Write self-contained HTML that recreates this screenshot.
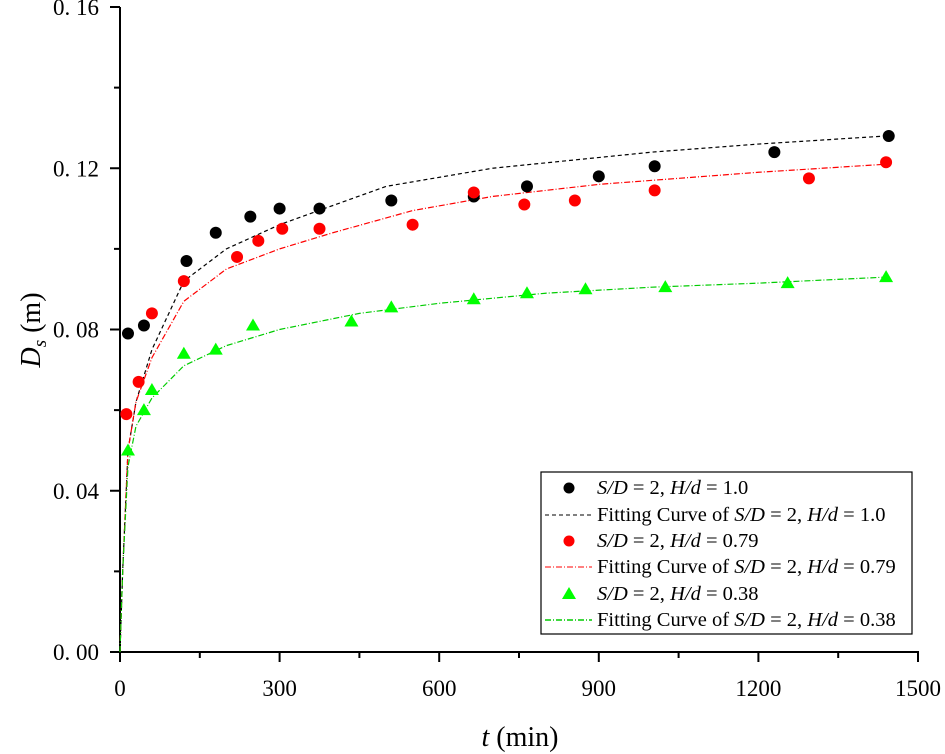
<!DOCTYPE html>
<html><head><meta charset="utf-8"><style>
body{margin:0;background:#fff}
svg{display:block;font-family:"Liberation Serif",serif}
</style></head><body>
<svg id="chart" width="945" height="754" viewBox="0 0 945 754" xmlns="http://www.w3.org/2000/svg">
<g id="axes"></g>
<g id="fits"></g>
<g id="pts"></g>
<text transform="translate(40,330) rotate(-90)" text-anchor="middle" font-size="28"><tspan font-style="italic">D</tspan><tspan font-style="italic" font-size="19" dy="6">s</tspan><tspan dy="-6"> (m)</tspan></text>
<text x="520" y="746" text-anchor="middle" font-size="28"><tspan font-style="italic">t</tspan> (min)</text>
<g font-size="20.5">
<rect x="541" y="472" width="371" height="162" fill="#fff" stroke="#000" stroke-width="1.2"/>
<circle cx="569" cy="488" r="5.5" fill="#000"/>
<text x="597" y="494"><tspan font-style="italic">S/D</tspan> = 2, <tspan font-style="italic">H/d</tspan> = 1.0</text>
<line x1="545" y1="515" x2="592" y2="515" stroke="#000" stroke-dasharray="4,3"/>
<text x="597" y="521">Fitting Curve of <tspan font-style="italic">S/D</tspan> = 2, <tspan font-style="italic">H/d</tspan> = 1.0</text>
<circle cx="569" cy="541" r="5.5" fill="#f00"/>
<text x="597" y="547"><tspan font-style="italic">S/D</tspan> = 2, <tspan font-style="italic">H/d</tspan> = 0.79</text>
<line x1="545" y1="567" x2="592" y2="567" stroke="#f00" stroke-dasharray="6,2,1,2"/>
<text x="597" y="573">Fitting Curve of <tspan font-style="italic">S/D</tspan> = 2, <tspan font-style="italic">H/d</tspan> = 0.79</text>
<polygon points="569,587 576,599 562,599" fill="#0f0"/>
<text x="597" y="600"><tspan font-style="italic">S/D</tspan> = 2, <tspan font-style="italic">H/d</tspan> = 0.38</text>
<line x1="545" y1="620" x2="592" y2="620" stroke="#0c0" stroke-width="1.5" stroke-dasharray="6,2,1,2"/>
<text x="597" y="626">Fitting Curve of <tspan font-style="italic">S/D</tspan> = 2, <tspan font-style="italic">H/d</tspan> = 0.38</text>
</g>
</svg>
<script>
const xTicks=[0,300,600,900,1200,1500];
const yTicks=[0,0.04,0.08,0.12,0.16];
const yTickLabels=["0. 00","0. 04","0. 08","0. 12","0. 16"];
const blackT=[15,45,125,180,245,300,375,510,665,765,900,1005,1230,1445];
const blackD=[0.079,0.081,0.097,0.104,0.108,0.110,0.110,0.112,0.113,0.1155,0.118,0.1205,0.124,0.128];
const redT=[12,35,60,120,220,260,305,375,550,665,760,855,1005,1295,1440];
const redD=[0.059,0.067,0.084,0.092,0.098,0.102,0.105,0.105,0.106,0.114,0.111,0.112,0.1145,0.1175,0.1215];
const greenT=[15,45,60,120,180,250,435,510,665,765,875,1025,1255,1440];
const greenD=[0.050,0.060,0.065,0.074,0.075,0.081,0.082,0.0855,0.0875,0.089,0.090,0.0905,0.0915,0.093];
const fitBlackT=[0,5,15,30,60,120,200,300,500,700,1000,1200,1440];
const fitBlackD=[0,0.02,0.05,0.062,0.075,0.092,0.100,0.106,0.1155,0.120,0.124,0.126,0.128];
const fitRedT=[0,5,15,30,60,120,200,300,400,550,700,900,1200,1440];
const fitRedD=[0,0.02,0.05,0.062,0.073,0.087,0.095,0.100,0.104,0.1095,0.113,0.116,0.119,0.121];
const fitGreenT=[0,5,15,30,60,120,200,300,450,600,800,1000,1200,1440];
const fitGreenD=[0,0.02,0.046,0.056,0.063,0.071,0.076,0.080,0.084,0.0865,0.089,0.0905,0.0915,0.093];

const X0=120,X1=918,Y0=652,Y1=7;
function sx(t){return X0+(t/1500)*(X1-X0);}
function sy(d){return Y0-(d/0.16)*(Y0-Y1);}
const NS="http://www.w3.org/2000/svg";
function mk(tag,attrs,parent){const e=document.createElementNS(NS,tag);for(const k in attrs)e.setAttribute(k,attrs[k]);parent.appendChild(e);return e;}
const axes=document.getElementById('axes');
let a=mk('line',{x1:X0,y1:Y1,x2:X0,y2:Y0+1,stroke:'#000','stroke-width':2},axes);


a=mk('line',{x1:X0-1,y1:Y0,x2:X1+1,y2:Y0,stroke:'#000','stroke-width':2},axes);


for(let i=0;i<xTicks.length;i++){
  const x=sx(xTicks[i]);
  mk('line',{x1:x,y1:Y0,x2:x,y2:Y0+10,stroke:'#000','stroke-width':2},axes);
  if(i<xTicks.length-1){const xm=sx(xTicks[i]+150);mk('line',{x1:xm,y1:Y0,x2:xm,y2:Y0+6,stroke:'#000','stroke-width':2},axes);}
  const t=mk('text',{x:x,y:Y0+44,'text-anchor':'middle','font-size':23},axes);
  
  
  t.textContent=xTicks[i];
}
for(let i=0;i<yTicks.length;i++){
  const y=sy(yTicks[i]);
  mk('line',{x1:X0-10,y1:y,x2:X0,y2:y,stroke:'#000','stroke-width':2},axes);
  if(i<yTicks.length-1){const ym=sy(yTicks[i]+0.02);mk('line',{x1:X0-6,y1:ym,x2:X0,y2:ym,stroke:'#000','stroke-width':2},axes);}
  const t=mk('text',{x:X0-21,y:y+8,'text-anchor':'end','font-size':23},axes);
  
  
  t.textContent=yTickLabels[i];
}
const fits=document.getElementById('fits');
function fit(T,D,color,dash,name){
  const p=mk('polyline',{points:T.map((t,i)=>sx(t)+','+sy(D[i])).join(' '),fill:'none',stroke:color,'stroke-width':1.2,'stroke-dasharray':dash},fits);
  
  
}
fit(fitBlackT,fitBlackD,'#000','4,3','fit-curve-hd-1-0');
fit(fitRedT,fitRedD,'#f00','6,2,1,2','fit-curve-hd-0-79');
fit(fitGreenT,fitGreenD,'#0c0','6,2,1,2','fit-curve-hd-0-38');
const pts=document.getElementById('pts');
for(let i=0;i<blackT.length;i++){
  const c=mk('circle',{cx:sx(blackT[i]),cy:sy(blackD[i]),r:6,fill:'#000'},pts);
  
  
}
for(let i=0;i<redT.length;i++){
  const c=mk('circle',{cx:sx(redT[i]),cy:sy(redD[i]),r:6,fill:'#f00'},pts);
  
  
}
for(let i=0;i<greenT.length;i++){
  const x=sx(greenT[i]),y=sy(greenD[i]);
  const c=mk('polygon',{points:`${x},${y-7} ${x+7},${y+5} ${x-7},${y+5}`,fill:'#0f0'},pts);
  
  
}
</script>
</body></html>
